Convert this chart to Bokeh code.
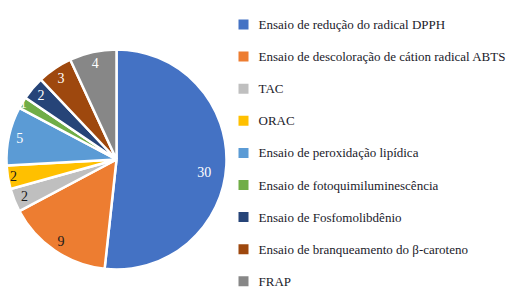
import math
from bokeh.plotting import figure
from bokeh.models import Range1d, ColumnDataSource
from bokeh.core.properties import value
from bokeh.embed import file_html
from bokeh.resources import INLINE

categories = [
    "Ensaio de redução do radical DPPH",
    "Ensaio de descoloração de cátion radical ABTS",
    "TAC",
    "ORAC",
    "Ensaio de peroxidação lipídica",
    "Ensaio de fotoquimiluminescência",
    "Ensaio de Fosfomolibdênio",
    "Ensaio de branqueamento do β-caroteno",
    "FRAP",
]
counts = [30, 9, 2, 2, 5, 1, 2, 3, 4]
colors = ["#4472C4", "#ED7D31", "#BFBFBF", "#FFC000", "#5B9BD5",
          "#70AD47", "#264478", "#9E480E", "#878787"]

# label styling (per slice): text colour, radial fraction, vertical nudge (px)
label_colors = ["white", "#1a1a1a", "#1a1a1a", "#1a1a1a", "white",
                "white", "white", "white", "white"]
label_frac = [0.8, 0.9, 0.9, 0.95, 0.9, 0.99, 0.9, 0.9, 0.9]
label_dy = [-8, 0, 0, 0, 0, 0, 0, 0, 0]

FONT = "Liberation Serif"
W, H = 513, 295
p = figure(width=W, height=H, output_backend="svg", toolbar_location=None,
           x_range=Range1d(0, W), y_range=Range1d(0, H),
           min_border=0, outline_line_color=None)
p.axis.visible = False
p.grid.visible = False

cx, cy, r = 116, 295 - 159, 110
total = sum(counts)
starts, ends, lx, ly = [], [], [], []
acc = 0
for i, c in enumerate(counts):
    a0 = math.pi / 2 - 2 * math.pi * acc / total
    a1 = math.pi / 2 - 2 * math.pi * (acc + c) / total
    starts.append(a0)
    ends.append(a1)
    mid = (a0 + a1) / 2
    f = label_frac[i]
    lx.append(cx + f * r * math.cos(mid))
    ly.append(cy + f * r * math.sin(mid) + label_dy[i])
    acc += c

src = ColumnDataSource(dict(start=starts, end=ends, color=colors,
                            lx=lx, ly=ly, txt=[str(c) for c in counts],
                            tc=label_colors))
p.wedge(x=cx, y=cy, radius=r, start_angle="end", end_angle="start",
        fill_color="color", line_color="white", line_width=2.5, source=src)
p.text(x="lx", y="ly", text="txt", text_color="tc", source=src,
       text_align="center", text_baseline="middle",
       text_font=value(FONT), text_font_size="14px")

# legend
n = len(categories)
leg_y = [295 - (24 + i * 32.1) for i in range(n)]
leg = ColumnDataSource(dict(x=[243] * n, y=leg_y, tx=[258] * n,
                            color=colors, label=categories))
p.rect(x="x", y="y", width=10, height=10, fill_color="color",
       line_color=None, source=leg)
p.text(x="tx", y="y", text="label", source=leg, text_color="#1a1a2a",
       text_baseline="middle", text_font=value(FONT),
       text_font_size="13px")

open("out.html", "w").write(file_html(p, INLINE))
